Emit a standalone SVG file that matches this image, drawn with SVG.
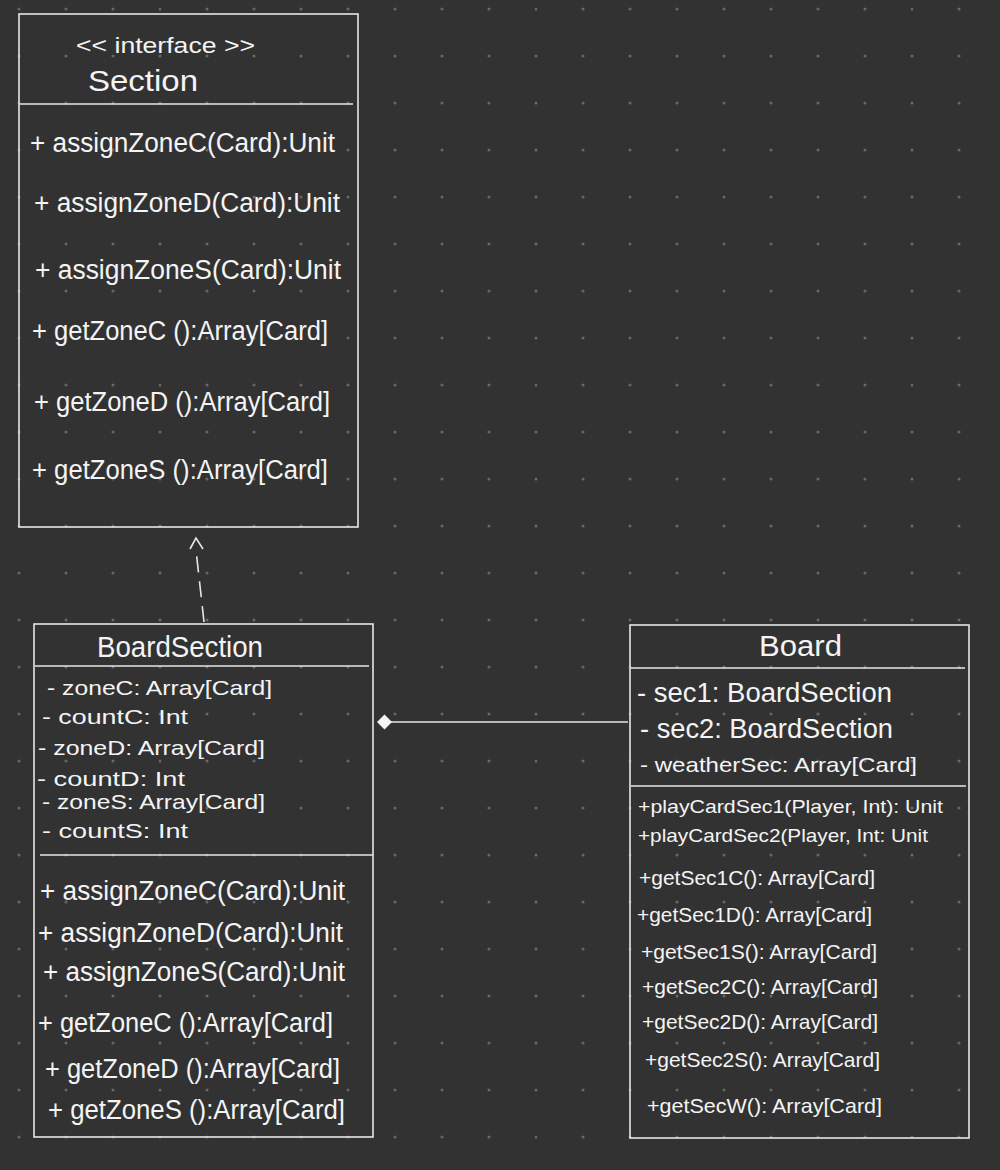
<svg xmlns="http://www.w3.org/2000/svg" width="1000" height="1170" viewBox="0 0 1000 1170">
<style>
.box{fill:none;stroke:#e6e6e6;stroke-width:1.6}
.div{stroke:#e6e6e6;stroke-width:1.6}
text{fill:#f4f4f4;font-family:"Liberation Sans",Arial,sans-serif;font-weight:normal}
.t{font-size:30px}
.s{font-size:22px}
.m{font-size:27px}
.a{font-size:21px}
.b{font-size:19px}
</style>
<defs>
<pattern id="dots" width="47" height="47" patternUnits="userSpaceOnUse">
<circle cx="19" cy="9" r="1.5" fill="#676767"/>
</pattern>
</defs>
<rect width="1000" height="1170" fill="#323232"/>
<rect width="1000" height="1170" fill="url(#dots)"/>

<g id="Section">
<rect class="box" x="19" y="14" width="339" height="513"/>
<line class="div" x1="20" y1="104" x2="353" y2="104"/>
<text class="s" x="76" y="53" textLength="179" lengthAdjust="spacingAndGlyphs">&lt;&lt; interface &gt;&gt;</text>
<text class="t" x="88" y="91" textLength="110" lengthAdjust="spacingAndGlyphs">Section</text>
<text class="m" x="30" y="152" textLength="305" lengthAdjust="spacingAndGlyphs">+ assignZoneC(Card):Unit</text>
<text class="m" x="34" y="212" textLength="306" lengthAdjust="spacingAndGlyphs">+ assignZoneD(Card):Unit</text>
<text class="m" x="35" y="279" textLength="306" lengthAdjust="spacingAndGlyphs">+ assignZoneS(Card):Unit</text>
<text class="m" x="32" y="340" textLength="296" lengthAdjust="spacingAndGlyphs">+ getZoneC ():Array[Card]</text>
<text class="m" x="34" y="411" textLength="296" lengthAdjust="spacingAndGlyphs">+ getZoneD ():Array[Card]</text>
<text class="m" x="32" y="479" textLength="296" lengthAdjust="spacingAndGlyphs">+ getZoneS ():Array[Card]</text>
</g>

<g id="BoardSection">
<rect class="box" x="34" y="624" width="339" height="513"/>
<line class="div" x1="35" y1="666" x2="369" y2="666"/>
<line class="div" x1="40" y1="855" x2="373" y2="855"/>
<text class="t" x="97" y="657" textLength="166" lengthAdjust="spacingAndGlyphs">BoardSection</text>
<text class="a" x="47" y="695" textLength="225" lengthAdjust="spacingAndGlyphs">- zoneC: Array[Card]</text>
<text class="a" x="42" y="724" textLength="146" lengthAdjust="spacingAndGlyphs">- countC: Int</text>
<text class="a" x="38" y="755" textLength="227" lengthAdjust="spacingAndGlyphs">- zoneD: Array[Card]</text>
<text class="a" x="37" y="786" textLength="148" lengthAdjust="spacingAndGlyphs">- countD: Int</text>
<text class="a" x="42" y="809" textLength="223" lengthAdjust="spacingAndGlyphs">- zoneS: Array[Card]</text>
<text class="a" x="42" y="838" textLength="146" lengthAdjust="spacingAndGlyphs">- countS: Int</text>
<text class="m" x="40" y="900" textLength="305" lengthAdjust="spacingAndGlyphs">+ assignZoneC(Card):Unit</text>
<text class="m" x="38" y="942" textLength="305" lengthAdjust="spacingAndGlyphs">+ assignZoneD(Card):Unit</text>
<text class="m" x="43" y="981" textLength="302" lengthAdjust="spacingAndGlyphs">+ assignZoneS(Card):Unit</text>
<text class="m" x="38" y="1032" textLength="295" lengthAdjust="spacingAndGlyphs">+ getZoneC ():Array[Card]</text>
<text class="m" x="45" y="1078" textLength="295" lengthAdjust="spacingAndGlyphs">+ getZoneD ():Array[Card]</text>
<text class="m" x="48" y="1119" textLength="297" lengthAdjust="spacingAndGlyphs">+ getZoneS ():Array[Card]</text>
</g>

<g id="Board">
<rect class="box" x="630" y="625" width="339" height="513"/>
<line class="div" x1="631" y1="668" x2="965" y2="668"/>
<line class="div" x1="631" y1="786" x2="966" y2="786"/>
<text class="t" x="759" y="656" textLength="83" lengthAdjust="spacingAndGlyphs">Board</text>
<text class="m" x="637" y="702" textLength="255" lengthAdjust="spacingAndGlyphs">- sec1: BoardSection</text>
<text class="m" x="640" y="738" textLength="253" lengthAdjust="spacingAndGlyphs">- sec2: BoardSection</text>
<text class="a" x="640" y="772" textLength="277" lengthAdjust="spacingAndGlyphs">- weatherSec: Array[Card]</text>
<text class="b" x="638" y="813" textLength="305" lengthAdjust="spacingAndGlyphs">+playCardSec1(Player, Int): Unit</text>
<text class="b" x="638" y="842" textLength="290" lengthAdjust="spacingAndGlyphs">+playCardSec2(Player, Int: Unit</text>
<text class="a" x="639" y="885" textLength="236" lengthAdjust="spacingAndGlyphs">+getSec1C(): Array[Card]</text>
<text class="a" x="637" y="922" textLength="235" lengthAdjust="spacingAndGlyphs">+getSec1D(): Array[Card]</text>
<text class="a" x="641" y="959" textLength="236" lengthAdjust="spacingAndGlyphs">+getSec1S(): Array[Card]</text>
<text class="a" x="642" y="994" textLength="236" lengthAdjust="spacingAndGlyphs">+getSec2C(): Array[Card]</text>
<text class="a" x="642" y="1029" textLength="236" lengthAdjust="spacingAndGlyphs">+getSec2D(): Array[Card]</text>
<text class="a" x="645" y="1067" textLength="235" lengthAdjust="spacingAndGlyphs">+getSec2S(): Array[Card]</text>
<text class="a" x="647" y="1113" textLength="235" lengthAdjust="spacingAndGlyphs">+getSecW(): Array[Card]</text>
</g>

<g id="connectors" stroke="#e6e6e6" stroke-width="1.6" fill="none">
<path d="M204,622 L196,550" stroke-dasharray="16,9"/>
<path d="M190,549 L196,538 L203,549"/>
<line x1="391" y1="722" x2="628" y2="722"/>
<path d="M377,722 L384.5,714.5 L392,722 L384.5,729.5 Z" fill="#f4f4f4" stroke="none"/>
</g>
</svg>
